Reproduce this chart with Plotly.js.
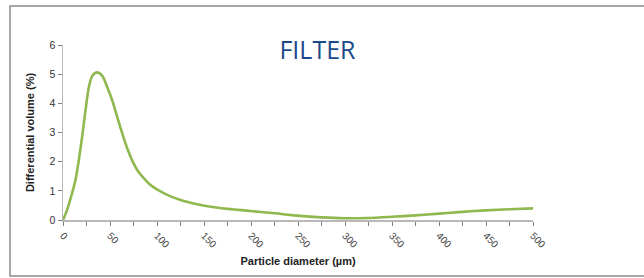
<!DOCTYPE html>
<html>
<head>
<meta charset="utf-8">
<script src="https://cdn.plot.ly/plotly-3.0.1.min.js"></script>
<style>
html,body{margin:0;padding:0;background:#fff;}
#chart{width:644px;height:278px;}
</style>
</head>
<body>
<div id="chart"></div>
<script>
// Particle diameter (µm)
const diameter = [0, 4.3, 9.6, 13.2, 16.8, 20.3, 23.9, 27.5, 31.1, 36.4, 41.8, 47.1, 52.5, 57.8, 63.2, 68.5, 73.9, 79.3, 86.4, 93.5, 104.2, 115, 125.7, 149, 167, 199, 225, 249, 275, 300, 325, 350, 375, 400, 425, 450, 475, 500];
// Differential volume (%)
const volume = [0, 0.34, 0.91, 1.36, 2.05, 2.84, 3.75, 4.55, 4.94, 5.06, 4.94, 4.55, 4.09, 3.52, 2.95, 2.44, 2.02, 1.70, 1.42, 1.19, 0.97, 0.80, 0.68, 0.50, 0.41, 0.31, 0.23, 0.15, 0.09, 0.06, 0.07, 0.11, 0.16, 0.22, 0.28, 0.33, 0.37, 0.40];
const xTicks = [0, 50, 100, 150, 200, 250, 300, 350, 400, 450, 500];
const yTicks = [0, 1, 2, 3, 4, 5, 6];

const trace = {
  x: diameter, y: volume, type: 'scatter', mode: 'lines',
  line: {color: '#8fb84e', width: 2.6, shape: 'spline', smoothing: 0.9},
  hoverinfo: 'skip', cliponaxis: false
};

const layout = {
  width: 644, height: 278,
  margin: {l: 63, r: 111, t: 45, b: 58},
  paper_bgcolor: '#ffffff', plot_bgcolor: '#ffffff',
  showlegend: false,
  title: {
    text: 'FILTER',
    font: {family: 'Open Sans', size: 25, color: '#1b4a8b'},
    x: 0.493, xref: 'container', xanchor: 'center',
    y: 0.818, yref: 'container', yanchor: 'middle'
  },
  xaxis: {
    range: [0, 500], tickvals: xTicks, ticktext: xTicks.map(String),
    tickangle: 45, showgrid: false, zeroline: false,
    showline: true, linecolor: '#b8b8b8', linewidth: 2,
    ticks: 'outside', ticklen: 4, tickcolor: '#808080', tickwidth: 1,
    minor: {dtick: 25, tick0: 0, ticks: 'outside', ticklen: 4, tickcolor: '#808080', tickwidth: 1, showgrid: false},
    tickfont: {family: 'Liberation Sans', size: 10, color: '#444'},
    title: {text: '<b>Particle diameter (µm)</b>', font: {family: 'Liberation Sans', size: 11, color: '#222'}, standoff: 8},
    fixedrange: true
  },
  yaxis: {
    range: [0, 6], tickvals: yTicks, ticktext: yTicks.map(String),
    showgrid: false, zeroline: false,
    showline: true, linecolor: '#b8b8b8', linewidth: 1.5,
    ticks: 'outside', ticklen: 4, tickcolor: '#808080', tickwidth: 1,
    tickfont: {family: 'Liberation Sans', size: 10.5, color: '#333'},
    title: {text: '<b>Differential volume (%)</b>', font: {family: 'Liberation Sans', size: 11, color: '#222'}, standoff: 12},
    fixedrange: true
  },
  shapes: [{
    type: 'rect', xref: 'paper', yref: 'paper',
    x0: -0.1128, x1: 1.4, y0: -0.32, y1: 1.2229,
    line: {color: '#8a8a8a', width: 1.5}, fillcolor: 'rgba(0,0,0,0)', layer: 'below'
  }]
};

Plotly.newPlot('chart', [trace], layout, {displayModeBar: false, staticPlot: true});
</script>
</body>
</html>
